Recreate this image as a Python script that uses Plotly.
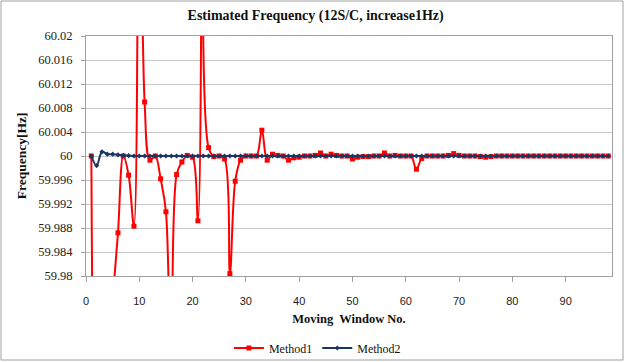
import plotly.graph_objects as go

# Moving window index
window_no = list(range(1, 99))

# Method1 frequency estimates [Hz]
method1 = [
    60.0000, 59.9200, 59.9500, 59.9650, 59.9760, 59.9872, 60.0000, 59.9968, 59.9883, 60.0650,
    60.0090, 59.9993, 60.0000, 59.9962, 59.9907, 59.9600, 59.9969, 59.9990, 60.0001, 59.9998,
    59.9892, 60.0750, 60.0014, 59.9999, 60.0000, 59.9995, 59.9804, 59.9958, 59.9993, 60.0000,
    60.0000, 60.0000, 60.0043, 59.9993, 60.0003, 60.0001, 60.0000, 59.9993, 59.9997, 59.9998,
    60.0000, 60.0000, 60.0001, 60.0005, 60.0000, 60.0003, 60.0001, 60.0000, 60.0000, 59.9995,
    59.9998, 59.9999, 59.9999, 60.0000, 60.0000, 60.0005, 60.0000, 60.0001, 60.0000, 60.0000,
    60.0000, 59.9978, 59.9996, 60.0000, 60.0000, 60.0000, 60.0000, 60.0001, 60.0004, 60.0001,
    60.0000, 60.0000, 60.0000, 59.9999, 59.9998, 59.9999, 60.0000, 60.0000, 60.0000, 60.0000,
    60.0000, 60.0000, 60.0000, 60.0000, 60.0000, 60.0000, 60.0000, 60.0000, 60.0000, 60.0000,
    60.0000, 60.0000, 60.0000, 60.0000, 60.0000, 60.0000, 60.0000, 60.0000,
]

# Method2 frequency estimates [Hz]
method2 = [60.0000, 59.9984, 60.0007, 60.0003, 60.0003, 60.0002, 60.0001, 60.00005] + [60.0000] * 90

y_ticks = [59.98, 59.984, 59.988, 59.992, 59.996, 60.0, 60.004, 60.008, 60.012, 60.016, 60.02]
y_tick_text = ["59.98", "59.984", "59.988", "59.992", "59.996", "60",
               "60.004", "60.008", "60.012", "60.016", "60.02"]
x_ticks = list(range(0, 100, 10))

SERIF = "Liberation Serif, Times New Roman, serif"
RED = "#FF0000"
NAVY = "#1B3564"

fig = go.Figure()
fig.add_trace(go.Scatter(
    x=window_no, y=method1, name="Method1", mode="lines+markers",
    line=dict(color=RED, width=2, shape="spline", smoothing=1),
    marker=dict(symbol="square", size=5, color=RED),
))
fig.add_trace(go.Scatter(
    x=window_no, y=method2, name="Method2", mode="lines+markers",
    line=dict(color=NAVY, width=2, shape="spline", smoothing=1),
    marker=dict(symbol="diamond", size=4, color=NAVY),
))

fig.update_layout(
    width=625, height=362,
    margin=dict(l=86, r=13, t=36, b=86, autoexpand=False),
    paper_bgcolor="white", plot_bgcolor="white",
    title=dict(text="<b>Estimated Frequency (12S/C, increase1Hz)</b>",
               font=dict(family=SERIF, size=14, color="#111111"),
               x=0.505, xanchor="center", y=0.957, yanchor="middle"),
    legend=dict(orientation="h", x=0.44, xanchor="center", y=-0.3, yanchor="middle",
                font=dict(family=SERIF, size=12, color="#111111"),
                itemwidth=30, tracegroupgap=0, bgcolor="rgba(0,0,0,0)"),
    xaxis=dict(
        range=[0, 98.7], tickvals=x_ticks, ticks="outside", ticklen=5,
        tickcolor="#A0A0A0", showgrid=False, zeroline=False,
        showline=True, linecolor="#A0A0A0", linewidth=1, mirror=True,
        tickfont=dict(family="Liberation Sans, Arial, sans-serif", size=11, color="#222222"),
        ticklabelstandoff=10,
        title=dict(text="<b>Moving  Window No.</b>", font=dict(family=SERIF, size=12.5, color="#111111"),
                   standoff=8),
    ),
    yaxis=dict(
        range=[59.98, 60.02], tickvals=y_ticks, ticktext=y_tick_text,
        ticks="outside", ticklen=4, tickcolor="#A0A0A0",
        showgrid=True, gridcolor="#C8C8C8", gridwidth=1, zeroline=False,
        showline=True, linecolor="#A0A0A0", linewidth=1, mirror=True,
        tickfont=dict(family=SERIF, size=12.5, color="#222222"),
        ticklabelstandoff=6,
        title=dict(text="<b>Frequency[Hz]</b>", font=dict(family=SERIF, size=13.5, color="#111111"),
                   standoff=8),
    ),
)

# Outer chart frame
fig.add_shape(type="rect", xref="paper", yref="paper",
              x0=(1 - 86) / 526, x1=(623 - 86) / 526,
              y0=(276 - 360) / 240, y1=(276 - 1) / 240,
              line=dict(color="#A0A0A0", width=1), fillcolor="rgba(0,0,0,0)", layer="below")

fig.write_html("out.html")
